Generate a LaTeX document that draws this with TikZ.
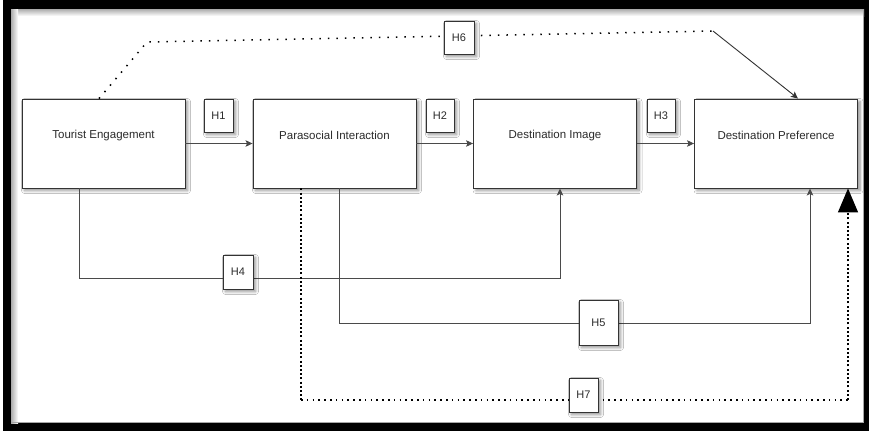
\documentclass[tikz,border=0pt]{standalone}
\usepackage{fontspec}
\setmainfont{Liberation Sans}
\usetikzlibrary{arrows.meta,shadows.blur}
\definecolor{txt}{HTML}{2B2B2B}
\definecolor{edge}{HTML}{333333}
\definecolor{conn}{HTML}{4A4A4A}
\tikzset{
  softshadow/.style={blur shadow={shadow xshift=2.5pt, shadow yshift=-2.5pt, shadow blur radius=3pt, shadow blur steps=6, shadow opacity=45}},
  box/.style={draw=edge, line width=0.9pt, fill=white, minimum width=163pt, minimum height=89pt, inner sep=0pt, softshadow},
  lbl/.style={text=txt, font=\fontsize{11.5}{13}\selectfont, yshift=8pt},
  hbox/.style={draw=edge, line width=0.9pt, fill=white, inner sep=0pt, text=txt, font=\fontsize{11}{13}\selectfont, softshadow},
  solidconn/.style={draw=conn, line width=0.9pt},
  smallarrow/.style={-{Stealth[length=7pt,width=6.5pt,inset=1.5pt]}},
  dotline/.style={draw=black, line width=1.5pt, dash pattern=on 1.5pt off 7pt},
  dotdense/.style={draw=black, line width=1.5pt, dash pattern=on 1.5pt off 4.3pt},
  dotvert/.style={draw=black, line width=1.3pt, dash pattern=on 2pt off 2.2pt},
}
\begin{document}
\begin{tikzpicture}[x=1pt,y=-1pt]
\useasboundingbox (0,0) rectangle (869,431);
% frame
\fill[black] (3,0) rectangle (869,431);
\fill[white] (11,9) rectangle (864,423);
\shade[top color=gray!65, bottom color=white] (11,9) rectangle (864,16);
\shade[left color=gray!65, right color=white] (11,9) rectangle (18,423);
\draw[gray!70, line width=0.8pt] (11,422.5) -- (864,422.5);
\draw[gray!70, line width=0.8pt] (863.5,9) -- (863.5,423);

% coordinates
\coordinate (h6a) at (147,42);
\coordinate (h6b) at (713,31);
\coordinate (h4a) at (79,278);
\coordinate (h4b) at (560,278);
\coordinate (h5a) at (339,323);
\coordinate (h5b) at (810,323);
\coordinate (h7a) at (301,400);
\coordinate (h7b) at (848,400);
\coordinate (h6c) at (99,99);
\coordinate (h6d) at (798,99);

% main boxes
\node[box, label={[lbl]center:Tourist Engagement}] (te) at (103.5,143.5) {};
\node[box, label={[lbl]center:Parasocial Interaction}] (pi) at (334.5,143.5) {};
\node[box, label={[lbl]center:Destination Image}] (di) at (555,143.5) {};
\node[box, label={[lbl]center:Destination Preference}] (dp) at (776,143.5) {};

% connectors
\draw[solidconn, smallarrow] (te.east) -- (pi.west);
\draw[solidconn, smallarrow] (pi.east) -- (di.west);
\draw[solidconn, smallarrow] (di.east) -- (dp.west);
\draw[solidconn, smallarrow] (te.south -| h4a) -- (h4a) -- (h4b) -- (di.south -| h4b);
\draw[solidconn, smallarrow] (pi.south -| h5a) -- (h5a) -- (h5b) -- (dp.south -| h5b);
\draw[dotline] (te.north -| h6c) -- (h6a) -- (h6b);
\draw[solidconn, draw=black!80, smallarrow] (h6b) -- (dp.north -| h6d);
\draw[dotvert] (pi.south -| h7a) -- (h7a);
\draw[dotdense] (h7a) -- (h7b);
\draw[dotvert, -{Triangle[length=24pt,width=20pt]}] (h7b) -- (dp.south -| h7b);

% hypothesis boxes
\node[hbox, minimum width=29pt, minimum height=33pt] (h1) at (218.5,115.5) {H1};
\node[hbox, minimum width=28pt, minimum height=33pt] (h2) at (440,115.5) {H2};
\node[hbox, minimum width=28pt, minimum height=33pt] (h3) at (661,115.5) {H3};
\node[hbox, minimum width=30pt, minimum height=33pt] (h6) at (459,37.5) {H6};
\node[hbox, minimum width=30pt, minimum height=34pt] (h4) at (238,272) {H4};
\node[hbox, minimum width=39pt, minimum height=45pt] (h5) at (598.5,322.5) {H5};
\node[hbox, minimum width=29pt, minimum height=34pt] (h7) at (583.5,395) {H7};
\end{tikzpicture}
\end{document}
